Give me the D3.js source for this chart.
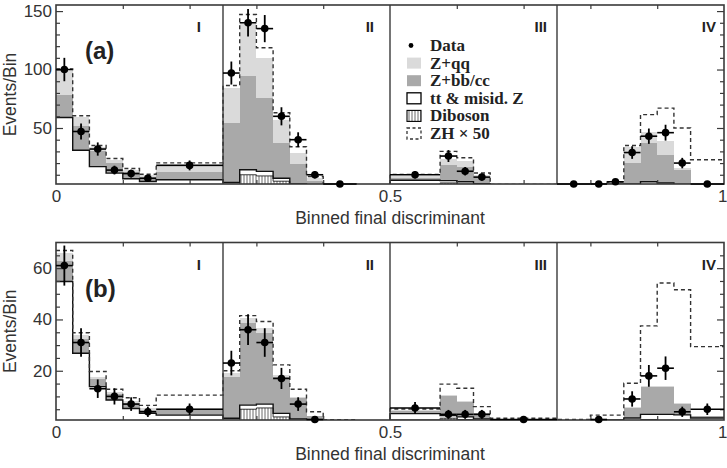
<!DOCTYPE html>
<html>
<head>
<meta charset="utf-8">
<script src="https://cdn.jsdelivr.net/npm/d3@7"></script>
<style>
  body { margin: 0; background: #fff; }
  svg { display: block; }
</style>
</head>
<body>
<div id="chart"></div>
<script>
// Chart size and plot frame
const WIDTH = 727;
const HEIGHT = 468;
const X_LEFT = 56;
const X_RIGHT = 724;

// Bin edges of the binned discriminant (4 sections of 0.25)
const binEdges = [0, .025, .05, .075, .1, .125, .15, .25,
  .275, .3, .325, .35, .375, .4, .45, .5,
  .575, .6, .625, .65, .75,
  .8, .825, .85, .875, .9, .925, .95, 1];
const sectionEdges = [0.25, 0.5, 0.75];
const sectionNames = ["I", "II", "III", "IV"];
const xTickLabels = [0, 0.5, 1];
const xMinorTicks = [0.1, 0.2, 0.3, 0.4, 0.6, 0.7, 0.8, 0.9];

// Panel (a)
const aDiboson = [1, 1, .5, .4, .3, .2, .5,   2, 10, 9, 4.5, 1.2, .5, .3, .1,   .8, 3, 2, .8, .2,   .1, .1, .3, .5, 1.5, 1, .3, .1];
const aTtMisid = [58, 30, 16.5, 11, 6.3, 4.1, 5.2,   1.5, 4.3, 3.9, 2.5, 1, .7, .5, .2,   4.5, 2, 2, 1.5, .5,   .3, .3, 1.5, 1.5, 2.5, 2, 1.5, .2];
const aZbb     = [19, 21, 13, 8.5, 5.5, 3.5, 7,   50.8, 80, 62.8, 30, 17.3, 3.8, .5, .2,   2, 13.6, 13, 5.7, .3,   .2, .2, 1, 18, 33, 24, 12.5, .2];
const aZqq     = [21, 7, 4, 3, 2.2, 1.6, 4,   30, 44.3, 34.3, 20, 9.1, 2, .2, .1,   1.5, 5.1, 4.4, 2, .2,   .1, .1, .5, 14, 9.6, 11.6, 1.7, .1];
const aZH50    = [1.5, 1.5, 1, 1, 1, 1, 3.5,   2, 8.5, 8.6, 6, 5.4, 1.5, .3, .2,   1.5, 6.3, 3.2, 1.5, .5,   .3, .3, .5, 1, 14.8, 28.4, 34, 22.3];
const aData    = [100, 47, 32, 14, 11, 7, 18,   97, 140, 135, 60, 40, 10, 0, null,   10, 26, 13, 8, null,   0, 0, 4, 29, 43, 46, 20, 1];
const aYDomain = [2.1, 155.2];
const aYMajor = [50, 100, 150];
const aYMinor = [10, 20, 30, 40, 60, 70, 80, 90, 110, 120, 130, 140];

// Panel (b)
const bDiboson = [.5, .3, .3, .2, .1, .1, .2,   .7, 5, 5.5, 2, .6, .2, .1, .1,   .8, 1.5, 1, .4, .2,   .1, .1, .2, .3, 1, .7, .3, .1];
const bTtMisid = [54.3, 26.5, 13.5, 8.4, 5.2, 3.3, 2.5,   .8, 1.6, 1.5, 1.4, .6, .3, .2, .1,   2.5, 1, 1, .8, .3,   .2, .3, .5, 1.3, 2, 2.3, 2.5, 1.5];
const bZbb     = [8, 5.5, 3, 2.4, 2.2, 1.4, 2,   16, 32, 27.6, 14.1, 8.1, 1.8, .3, .1,   1, 7.5, 6, 2.2, .2,   .2, .3, .3, 4, 10.5, 10.5, 4.2, .8];
const bZqq     = [3.1, 1.7, .9, .8, .7, .5, .6,   1.5, 1.9, 2, .9, .6, .2, .1, .1,   .3, .5, .3, .2, .1,   .1, .1, .1, .4, .5, .5, .3, .1];
const bZH50    = [1, .8, 2, 1, 1.3, 1.2, 5.2,   1, 1, 2.6, 3.9, 2.9, 1.5, .2, .1,   .5, 4.3, 4.9, 2.4, .7,   .4, 1.9, 1.6, 9.1, 23.5, 40.2, 44.3, 26.9];
const bData    = [61, 31, 13, 10, 7, 4, 5,   23, 36, 31, 17, 7, 1, null, null,   5.5, 3, 3, 3, 1,   null, 1, null, 9, 18, 21, 4, 5];
const bYDomain = [0.8, 70];
const bYMajor = [20, 40, 60];
const bYMinor = [5, 10, 15, 25, 30, 35, 45, 50, 55, 65];

const legendLabels = ["Data", "Z+qq", "Z+bb/cc", "tt & misid. Z", "Diboson", "ZH \u00d7 50"];

const COLOR_QQ = "#dadada";
const COLOR_BB = "#a9a9a9";
const FRAME = "#3a3a3a";
const SANS = "'Liberation Sans', Arial, Helvetica, sans-serif";
const SERIF = "'Liberation Serif', 'Times New Roman', serif";

const panels = [
  { id: "a", label: "(a)", top: 5, bottom: 184, yDomain: aYDomain, major: aYMajor, minor: aYMinor,
    dib: aDiboson, tt: aTtMisid, bb: aZbb, qq: aZqq, zh: aZH50, data: aData, legend: true },
  { id: "b", label: "(b)", top: 242.5, bottom: 420, yDomain: bYDomain, major: bYMajor, minor: bYMinor,
    dib: bDiboson, tt: bTtMisid, bb: bZbb, qq: bZqq, zh: bZH50, data: bData, legend: false }
];

const svg = d3.select("#chart").append("svg")
  .attr("width", WIDTH).attr("height", HEIGHT)
  .style("font-family", SANS);

const defs = svg.append("defs");
const hatch = defs.append("pattern")
  .attr("id", "hatch").attr("patternUnits", "userSpaceOnUse")
  .attr("width", 3).attr("height", 10);
hatch.append("rect").attr("width", 3).attr("height", 10).attr("fill", "#fff");
hatch.append("line").attr("x1", 1).attr("x2", 1).attr("y1", 0).attr("y2", 10)
  .attr("stroke", "#444").attr("stroke-width", 0.8);

const x = d3.scaleLinear().domain([0, 1]).range([X_LEFT, X_RIGHT]);

panels.forEach(p => {
  const y = d3.scaleLinear().domain(p.yDomain).range([p.bottom, p.top]);
  const g = svg.append("g");

  defs.append("clipPath").attr("id", "clip-" + p.id)
    .append("rect").attr("x", X_LEFT).attr("y", p.top)
    .attr("width", X_RIGHT - X_LEFT).attr("height", p.bottom - p.top);

  const plot = g.append("g").attr("clip-path", "url(#clip-" + p.id + ")");

  // stacked backgrounds
  const rows = p.dib.map((d, i) => ({ i: i, dib: d, tt: p.tt[i], bb: p.bb[i], qq: p.qq[i] }));
  const stack = d3.stack().keys(["dib", "tt", "bb", "qq"])(rows);
  const fills = { dib: "url(#hatch)", tt: "#fff", bb: COLOR_BB, qq: COLOR_QQ };

  stack.forEach(layer => {
    plot.append("g").selectAll("rect")
      .data(layer)
      .enter()
      .append("rect")
      .attr("x", d => x(binEdges[d.data.i]))
      .attr("width", d => x(binEdges[d.data.i + 1]) - x(binEdges[d.data.i]))
      .attr("y", d => y(d[1]))
      .attr("height", d => Math.max(0, y(d[0]) - y(d[1])))
      .attr("fill", fills[layer.key])
      .attr("shape-rendering", "crispEdges");
  });

  // step outlines
  const stepLine = d3.line().curve(d3.curveStepAfter).x(d => x(d[0])).y(d => y(d[1]));
  const stepPoints = vals => {
    const pts = vals.map((v, i) => [binEdges[i], v]);
    pts.push([binEdges[binEdges.length - 1], vals[vals.length - 1]]);
    return pts;
  };
  const dibTop = stack[0].map(d => d[1]);
  const ttTop = stack[1].map(d => d[1]);
  const total = stack[3].map(d => d[1]);
  const withZH = total.map((t, i) => t + p.zh[i]);

  plot.append("path").attr("d", stepLine(stepPoints(dibTop)))
    .attr("fill", "none").attr("stroke", "#222").attr("stroke-width", 0.9);
  plot.append("path").attr("d", stepLine(stepPoints(ttTop)))
    .attr("fill", "none").attr("stroke", "#111").attr("stroke-width", 1.4);
  plot.append("path").attr("d", stepLine(stepPoints(withZH)))
    .attr("fill", "none").attr("stroke", "#333").attr("stroke-width", 1.4)
    .attr("stroke-dasharray", "4,3");

  // section dividers
  g.selectAll(".divider")
    .data(sectionEdges)
    .enter()
    .append("line")
    .attr("x1", d => x(d)).attr("x2", d => x(d))
    .attr("y1", p.top).attr("y2", p.bottom)
    .attr("stroke", FRAME).attr("stroke-width", 1.4);

  // frame
  g.append("rect")
    .attr("x", X_LEFT).attr("y", p.top)
    .attr("width", X_RIGHT - X_LEFT).attr("height", p.bottom - p.top)
    .attr("fill", "none").attr("stroke", FRAME).attr("stroke-width", 1.6);

  // y axes (ticks inward)
  const leftMajor = d3.axisLeft(y).tickValues(p.major).tickSize(-7).tickPadding(4);
  const leftMinor = d3.axisLeft(y).tickValues(p.minor).tickSize(-4).tickFormat("");
  const rightMajor = d3.axisRight(y).tickValues(p.major).tickSize(-7).tickFormat("");
  const rightMinor = d3.axisRight(y).tickValues(p.minor).tickSize(-4).tickFormat("");
  [[leftMajor, X_LEFT], [leftMinor, X_LEFT], [rightMajor, X_RIGHT], [rightMinor, X_RIGHT]].forEach(([ax, pos]) => {
    const a = g.append("g").attr("transform", "translate(" + pos + ",0)").call(ax);
    a.select(".domain").remove();
    a.selectAll("line").attr("stroke", FRAME).attr("stroke-width", 1.2);
    a.selectAll("text").attr("font-size", 17).attr("fill", "#333").attr("font-family", SANS);
  });

  // x axes
  const bottomAxis = d3.axisBottom(x).tickValues(xTickLabels).tickSize(0).tickPadding(6)
    .tickFormat(d => d3.format("")(d));
  const bottomMinor = d3.axisBottom(x).tickValues(xMinorTicks).tickSize(-4).tickFormat("");
  const topMinor = d3.axisTop(x).tickValues(xMinorTicks).tickSize(-4).tickFormat("");
  [[bottomAxis, p.bottom], [bottomMinor, p.bottom], [topMinor, p.top]].forEach(([ax, pos]) => {
    const a = g.append("g").attr("transform", "translate(0," + pos + ")").call(ax);
    a.select(".domain").remove();
    a.selectAll("line").attr("stroke", FRAME).attr("stroke-width", 1.2);
    a.selectAll("text").attr("font-size", 17).attr("fill", "#333").attr("font-family", SANS)
      .filter(d => d === 1).attr("text-anchor", "end").attr("dx", 3);
  });

  // data points with error bars
  const pts = p.data.map((v, i) => ({ v: v, i: i })).filter(d => d.v !== null);
  const dg = g.append("g");
  const yc = v => y(Math.max(v, p.yDomain[0]));
  dg.selectAll(".xerr").data(pts).enter().append("line")
    .attr("x1", d => x(binEdges[d.i])).attr("x2", d => x(binEdges[d.i + 1]))
    .attr("y1", d => yc(d.v)).attr("y2", d => yc(d.v))
    .attr("stroke", "#000").attr("stroke-width", 1.6);
  dg.selectAll(".yerr").data(pts.filter(d => d.v > 0)).enter().append("line")
    .attr("x1", d => x((binEdges[d.i] + binEdges[d.i + 1]) / 2))
    .attr("x2", d => x((binEdges[d.i] + binEdges[d.i + 1]) / 2))
    .attr("y1", d => yc(d.v - Math.sqrt(d.v))).attr("y2", d => y(d.v + Math.sqrt(d.v)))
    .attr("stroke", "#000").attr("stroke-width", 1.8);
  dg.selectAll("circle").data(pts).enter().append("circle")
    .attr("cx", d => x((binEdges[d.i] + binEdges[d.i + 1]) / 2))
    .attr("cy", d => yc(d.v))
    .attr("r", 3.8).attr("fill", "#000");

  // section labels
  const secRight = [201, 374, 547, 716];
  g.selectAll(".sec").data(sectionNames).enter().append("text")
    .attr("x", (d, i) => secRight[i]).attr("y", p.top + 27)
    .attr("text-anchor", "end").attr("font-size", 15).attr("font-weight", "bold")
    .attr("fill", "#222").text(d => d);

  // panel label
  g.append("text").attr("x", 85).attr("y", p.top + 54)
    .attr("font-size", 24).attr("font-weight", "bold").attr("fill", "#222").text(p.label);

  // axis titles
  const midY = (p.top + p.bottom) / 2;
  g.append("text")
    .attr("transform", "translate(16," + midY + ") rotate(-90)")
    .attr("text-anchor", "middle").attr("font-size", 17.5).attr("fill", "#333")
    .text("Events/Bin");
  g.append("text")
    .attr("x", x(0.5)).attr("y", p.bottom + 40)
    .attr("text-anchor", "middle").attr("font-size", 17.5).attr("fill", "#333")
    .text("Binned final discriminant");

  // legend
  if (p.legend) {
    const lg = g.append("g").style("font-family", SERIF);
    const rowY = i => 45.5 + i * 17.6;
    legendLabels.forEach((name, i) => {
      const cy = rowY(i);
      if (i === 0) {
        lg.append("circle").attr("cx", 411).attr("cy", cy).attr("r", 2.4).attr("fill", "#000");
      } else {
        const r = lg.append("rect").attr("x", 407).attr("y", cy - 5.5).attr("width", 14).attr("height", 11);
        if (i === 1) r.attr("fill", COLOR_QQ);
        if (i === 2) r.attr("fill", COLOR_BB);
        if (i === 3) r.attr("fill", "#fff").attr("stroke", "#000").attr("stroke-width", 1.3);
        if (i === 4) r.attr("fill", "url(#hatch)").attr("stroke", "#000").attr("stroke-width", 1.1);
        if (i === 5) r.attr("fill", "#fff").attr("stroke", "#333").attr("stroke-width", 1.3).attr("stroke-dasharray", "3,2.5");
      }
      lg.append("text").attr("x", 430).attr("y", cy + 5.5)
        .attr("font-size", 17).attr("font-weight", "bold").attr("fill", "#222").text(name);
    });
  }
});
</script>
</body>
</html>
